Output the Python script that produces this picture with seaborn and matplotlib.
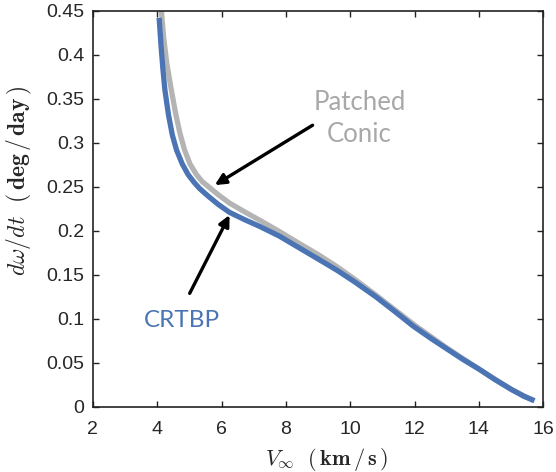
import matplotlib
matplotlib.use("Agg")
import matplotlib.pyplot as plt
import pandas as pd
import seaborn as sns

# values
crtbp_v = [4.06, 4.12, 4.18, 4.24, 4.35, 4.47, 4.6, 4.78, 4.96, 5.15, 5.32,
           5.6, 5.9, 6.25, 6.7, 7.19, 7.8, 8.4, 9.05, 9.6, 10.14, 10.8, 11.4,
           11.95, 12.5, 13.0, 13.5, 14.0, 14.5, 15.0, 15.4, 15.73]
crtbp_rate = [0.442, 0.41, 0.383, 0.360, 0.332, 0.309, 0.292, 0.276, 0.264,
              0.255, 0.248, 0.239, 0.230, 0.221, 0.213, 0.205, 0.194, 0.181,
              0.167, 0.155, 0.142, 0.125, 0.108, 0.092, 0.078, 0.066, 0.054,
              0.043, 0.031, 0.020, 0.012, 0.007]

patched_v = [4.13, 4.2, 4.3, 4.44, 4.57, 4.70, 4.85, 5.02, 5.22, 5.4, 5.6,
             5.9, 6.25, 6.7, 7.19, 7.81, 8.4, 9.05, 9.6, 10.14, 10.8, 11.4,
             12.0, 13.0, 14.0, 15.0, 15.7]
patched_rate = [0.45, 0.42, 0.39, 0.360, 0.334, 0.312, 0.292, 0.276, 0.264,
                0.256, 0.250, 0.241, 0.2315, 0.222, 0.212, 0.199, 0.186,
                0.172, 0.159, 0.145, 0.127, 0.110, 0.093, 0.067, 0.043,
                0.020, 0.007]

x_ticks = [2, 4, 6, 8, 10, 12, 14, 16]
y_ticks = [0, 0.05, 0.1, 0.15, 0.2, 0.25, 0.3, 0.35, 0.4, 0.45]
y_ticklabels = ["0", "0.05", "0.1", "0.15", "0.2", "0.25", "0.3", "0.35",
                "0.4", "0.45"]

blue = "#4a74b4"
grey = "#b4b4b4"

sns.set_style("ticks")
plt.rcParams["font.family"] = ["Liberation Sans", "DejaVu Sans"]
plt.rcParams["mathtext.fontset"] = "cm"

df_c = pd.DataFrame({"v": crtbp_v, "rate": crtbp_rate})
df_p = pd.DataFrame({"v": patched_v, "rate": patched_rate})

fig = plt.figure(figsize=(5.56, 4.72), dpi=100)
ax = fig.add_axes([0.167, 0.138, 0.81, 0.839])

# grey first so the blue sits on top where they merge
sns.lineplot(data=df_p, x="v", y="rate", color=grey, lw=3.8, ax=ax,
             sort=False, solid_capstyle="butt")
sns.lineplot(data=df_c, x="v", y="rate", color=blue, lw=3.8, ax=ax,
             sort=False, solid_capstyle="butt")

ax.set_xlim(2, 16)
ax.set_ylim(0, 0.45)
ax.set_xticks(x_ticks)
ax.set_yticks(y_ticks)
ax.set_yticklabels(y_ticklabels)
ax.tick_params(direction="in", top=True, right=True, labelsize=14,
               length=4, width=1, color="#222222")
ax.tick_params(axis="x", pad=10)
ax.tick_params(axis="y", pad=6)
for s in ax.spines.values():
    s.set_linewidth(1.2)
    s.set_color("#222222")

ax.set_xlabel(r"$V_\infty\ \ (\,\mathbf{km}\,/\,\mathbf{s}\,)$", fontsize=16)
ax.set_ylabel(r"$d\omega/dt\ \ (\,\mathbf{deg}\,/\,\mathbf{day}\,)$",
              fontsize=17)
ax.xaxis.set_label_coords(0.52, -0.098)
ax.yaxis.set_label_coords(-0.13, 0.57)

txt_font = ["Lato", "DejaVu Sans"]
ax.text(10.29, 0.328, "Patched\nConic", color="#a8a8a8", fontsize=18.5,
        ha="center", va="center", family=txt_font, linespacing=1.36)
ax.text(4.78, 0.098, "CRTBP", color=blue, fontsize=17.5,
        ha="center", va="center", family=txt_font)

arrow = dict(arrowstyle="-|>,head_length=0.65,head_width=0.32", color="black",
             lw=2.4, shrinkA=0, shrinkB=0)
ax.annotate("", xy=(5.79, 0.252), xytext=(8.83, 0.320), arrowprops=arrow)
ax.annotate("", xy=(6.25, 0.218), xytext=(5.01, 0.129), arrowprops=arrow)

fig.savefig("out.png", dpi=100)
